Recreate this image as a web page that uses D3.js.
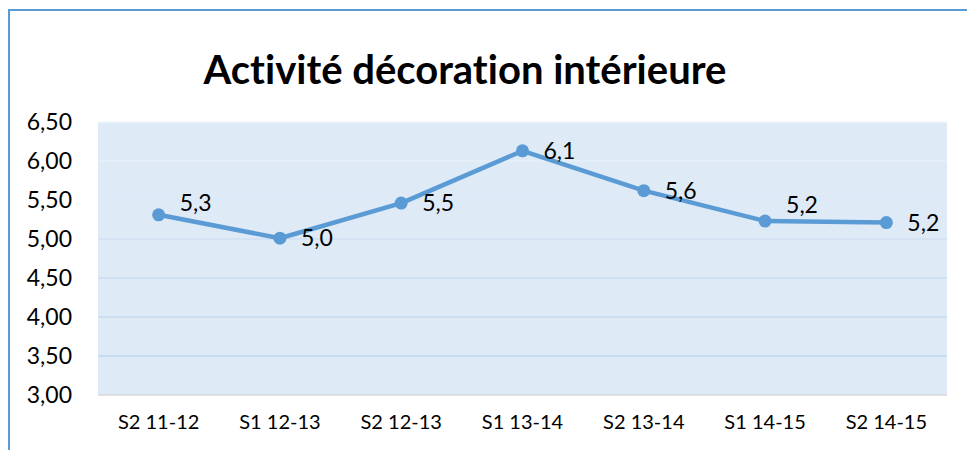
<!DOCTYPE html>
<html>
<head>
<meta charset="utf-8">
<script src="https://cdn.jsdelivr.net/npm/d3@7"></script>
<style>
  body { margin: 0; background: #fff; }
  text { font-family: Lato, "Open Sans", sans-serif; fill: #000; font-variant-ligatures: none; }
</style>
</head>
<body>
<div id="viz"></div>
<script>
// data
const categories = ["S2 11-12", "S1 12-13", "S2 12-13", "S1 13-14", "S2 13-14", "S1 14-15", "S2 14-15"];
const values     = [5.31, 5.01, 5.46, 6.13, 5.62, 5.23, 5.21];
const yTicks     = [3.0, 3.5, 4.0, 4.5, 5.0, 5.5, 6.0, 6.5];
const title      = "Activité décoration intérieure";

// small label nudges (layout only)
const labelNudge = [-12, 0, 0, 0, 0, -16, 0];

const width = 967, height = 450,
      margin = {left: 98, right: 20, top: 122, bottom: 55},
      viz_width  = 947 - margin.left,
      viz_height = 395 - margin.top,
      blue = "#5b9bd5",
      fmt = d => d.toFixed(2).replace(".", ","),
      fmt1 = d => d.toFixed(1).replace(".", ",");

const svg = d3.select("#viz").append("svg")
  .attr("width", width).attr("height", height);

// outer chart border (runs off the picture on right/bottom)
svg.append("rect")
  .attr("x", 9).attr("y", 10)
  .attr("width", 1000).attr("height", 1000)
  .style("fill", "none").style("stroke", blue).style("stroke-width", 2);

svg.append("text")
  .attr("x", 465).attr("y", 84)
  .attr("text-anchor", "middle")
  .style("font-size", "40px").style("font-weight", "bold")
  .text(title);

const g = svg.append("g").attr("transform", `translate(${margin.left},${margin.top})`);

const x = d3.scaleBand().domain(categories).range([0, viz_width]);
const y = d3.scaleLinear().domain([3, 6.5]).range([viz_height, 0]);

const defs = svg.append("defs");
const grad = defs.append("linearGradient")
  .attr("id", "gridgrad").attr("gradientUnits", "userSpaceOnUse")
  .attr("x1", 0).attr("y1", 0).attr("x2", 0).attr("y2", viz_height);
grad.append("stop").attr("offset", "0%").attr("stop-color", "#f2f7fc");
grad.append("stop").attr("offset", "45%").attr("stop-color", "#cfe0f2");
grad.append("stop").attr("offset", "100%").attr("stop-color", "#bcd4ee");

g.append("rect")
  .attr("width", viz_width).attr("height", viz_height)
  .style("fill", "#deeaf6");

// gridlines
g.append("g").selectAll("line")
  .data(yTicks.filter(d => d > 3))
  .join("line")
  .attr("x1", 0).attr("x2", viz_width)
  .attr("y1", d => y(d)).attr("y2", d => y(d))
  .style("stroke", "url(#gridgrad)").style("stroke-width", 1.5);

// x axis baseline
g.append("line")
  .attr("x1", 0).attr("x2", viz_width)
  .attr("y1", viz_height).attr("y2", viz_height)
  .style("stroke", "#d9d9d9").style("stroke-width", 1.5);

// y axis
const yAxis = g.append("g")
  .call(d3.axisLeft(y).tickValues(yTicks).tickFormat(fmt).tickSize(0).tickPadding(26));
yAxis.select(".domain").remove();
yAxis.selectAll("text")
  .style("font-size", "23px").style("font-family", "Lato, sans-serif").attr("fill", "#000");

// x axis
const xAxis = g.append("g")
  .attr("transform", `translate(0,${viz_height})`)
  .call(d3.axisBottom(x).tickSize(0).tickPadding(20));
xAxis.select(".domain").remove();
xAxis.selectAll("text")
  .style("font-size", "20px").style("font-family", "Lato, sans-serif").attr("fill", "#000");

const cx = (d, i) => x(categories[i]) + x.bandwidth() / 2;

const line = d3.line()
  .x(cx)
  .y(d => y(d));

g.append("path")
  .attr("d", line(values))
  .style("stroke", blue).style("stroke-width", 4.5)
  .style("fill", "none").style("stroke-linejoin", "round");

g.append("g").selectAll("circle")
  .data(values)
  .join("circle")
  .attr("cx", cx).attr("cy", d => y(d))
  .attr("r", 6.5)
  .style("fill", blue);

g.append("g").selectAll("text")
  .data(values)
  .join("text")
  .attr("x", (d, i) => cx(d, i) + 21)
  .attr("y", (d, i) => y(d) + labelNudge[i])
  .attr("dy", "0.35em")
  .style("font-size", "23px")
  .text(fmt1);
</script>
</body>
</html>
